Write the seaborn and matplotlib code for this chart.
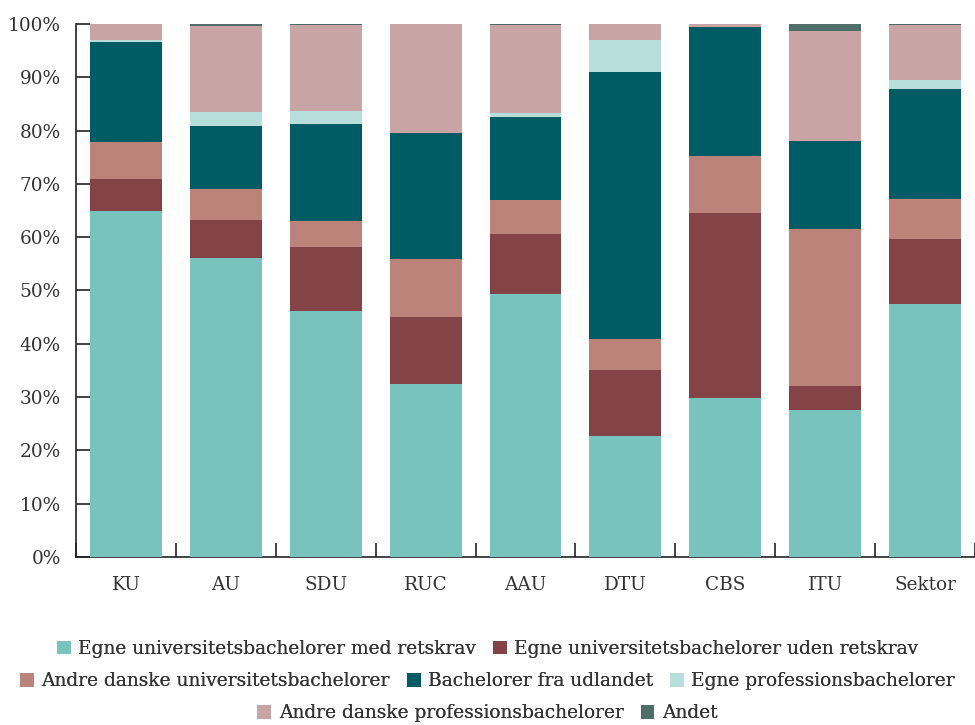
import pandas as pd
import matplotlib.pyplot as plt
import seaborn as sns
from matplotlib.patches import Patch
from matplotlib.ticker import FixedLocator, FuncFormatter

# Share of new students per institution (%)
categories = ['KU', 'AU', 'SDU', 'RUC', 'AAU', 'DTU', 'CBS', 'ITU', 'Sektor']
egne_med = [64.9, 56.1, 46.1, 32.4, 49.3, 22.6, 29.8, 27.5, 47.4]
egne_uden = [6.0, 7.1, 12.0, 12.6, 11.2, 12.5, 34.7, 4.5, 12.2]
andre_univ = [6.9, 5.8, 4.9, 10.9, 6.4, 5.8, 10.7, 29.5, 7.5]
udland = [18.8, 11.8, 18.2, 23.6, 15.6, 50.1, 24.2, 16.5, 20.7]
egne_prof = [0.4, 2.7, 2.4, 0.0, 0.8, 6.0, 0.0, 0.0, 1.7]
andre_prof = [3.0, 16.2, 16.2, 20.5, 16.5, 3.0, 0.6, 20.7, 10.3]
andet = [0.0, 0.3, 0.2, 0.0, 0.2, 0.0, 0.0, 1.3, 0.2]

series_names = [
    'Egne universitetsbachelorer med retskrav',
    'Egne universitetsbachelorer uden retskrav',
    'Andre danske universitetsbachelorer',
    'Bachelorer fra udlandet',
    'Egne professionsbachelorer',
    'Andre danske professionsbachelorer',
    'Andet',
]
series_values = [egne_med, egne_uden, andre_univ, udland, egne_prof, andre_prof, andet]
colors = ['#78c3bd', '#844347', '#bc837b', '#005c64', '#b8dedc', '#c8a4a4', '#4e6e68']

TEXT = '#333333'
AXIS = '#222222'


def build_frame():
    df = pd.DataFrame(dict(zip(series_names, series_values)), index=categories)
    return df.cumsum(axis=1)


def plot_stacked(df):
    fig = plt.figure(figsize=(9.75, 7.25), dpi=100)
    ax = fig.add_axes([0.078, 0.232, 0.922, 0.735])

    # draw the cumulative totals from the top down so each layer covers the rest
    for name, col in reversed(list(zip(series_names, colors))):
        sns.barplot(x=df.index, y=df[name].values, color=col, saturation=1,
                    width=0.72, ax=ax, zorder=3, linewidth=0, edgecolor='none')

    ax.set_ylim(0, 100)
    ax.set_xlim(-0.5, len(categories) - 0.5)
    ax.set_xlabel('')
    ax.set_ylabel('')

    for side in ['top', 'right']:
        ax.spines[side].set_visible(False)
    for side in ['left', 'bottom']:
        ax.spines[side].set_color(AXIS)
        ax.spines[side].set_linewidth(1.2)
        ax.spines[side].set_zorder(1)

    ax.set_yticks(range(0, 101, 10))
    ax.yaxis.set_major_formatter(FuncFormatter(lambda v, _: f'{int(v)}%'))
    ax.tick_params(axis='y', left=True, direction='in', length=10, width=1.2, color=AXIS,
                   labelsize=13.3, labelcolor=TEXT, pad=11)

    ax.xaxis.set_minor_locator(FixedLocator([i - 0.5 for i in range(len(categories) + 1)]))
    ax.tick_params(axis='x', which='major', bottom=True, length=0, labelsize=13.3,
                   labelcolor=TEXT, pad=14)
    ax.tick_params(axis='x', which='minor', bottom=True, direction='in', length=10,
                   width=1.2, color=AXIS)

    handles = [Patch(facecolor=c, edgecolor='none') for c in colors]
    rows = [[0, 1], [2, 3, 4], [5, 6]]
    row_y = [0.105, 0.060, 0.016]
    for idx, y in zip(rows, row_y):
        leg = fig.legend([handles[i] for i in idx], [series_names[i] for i in idx],
                         loc='center', bbox_to_anchor=(0.5, y), ncol=len(idx),
                         frameon=False, fontsize=13.4, handlelength=0.75, handleheight=0.75,
                         handletextpad=0.4, columnspacing=0.9, borderpad=0)
        for t in leg.get_texts():
            t.set_color(TEXT)
        fig.add_artist(leg)

    fig.savefig('out.png', dpi=100)


def main():
    sns.set_style('white')
    plt.rcParams['font.family'] = ['DejaVu Serif']
    df = build_frame()
    plot_stacked(df)


if __name__ == '__main__':
    main()
